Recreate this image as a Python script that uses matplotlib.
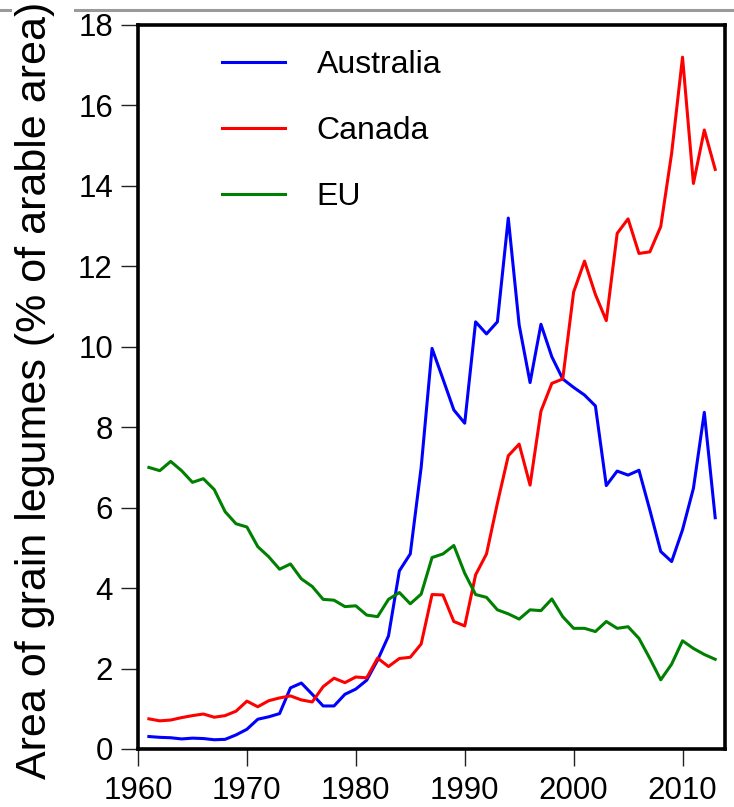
import matplotlib
matplotlib.use("Agg")
import matplotlib.pyplot as plt
from matplotlib.lines import Line2D

plt.rcParams["font.family"] = ["Liberation Sans", "DejaVu Sans"]

years = list(range(1961, 2014))

australia = [0.31, 0.29, 0.28, 0.25, 0.27, 0.26, 0.23, 0.24, 0.35, 0.49,
             0.74, 0.80, 0.88, 1.52, 1.64, 1.36, 1.07, 1.07, 1.36, 1.49,
             1.71, 2.21, 2.81, 4.43, 4.85, 7.00, 9.96, 9.20, 8.43, 8.10,
             10.62, 10.32, 10.62, 13.20, 10.54, 9.11, 10.56, 9.75, 9.20, 8.99,
             8.80, 8.53, 6.55, 6.91, 6.81, 6.93, 5.94, 4.91, 4.66, 5.45,
             6.48, 8.37, 5.75]

canada = [0.75, 0.70, 0.72, 0.78, 0.83, 0.87, 0.79, 0.83, 0.94, 1.19,
          1.05, 1.20, 1.27, 1.32, 1.22, 1.17, 1.55, 1.76, 1.65, 1.79,
          1.77, 2.26, 2.05, 2.25, 2.28, 2.61, 3.84, 3.83, 3.17, 3.06,
          4.33, 4.85, 6.11, 7.29, 7.58, 6.56, 8.40, 9.09, 9.20, 11.36,
          12.13, 11.30, 10.65, 12.82, 13.18, 12.32, 12.36, 12.99, 14.81, 17.20,
          14.06, 15.39, 14.41]

eu = [7.00, 6.92, 7.15, 6.92, 6.63, 6.72, 6.45, 5.90, 5.60, 5.52,
      5.03, 4.78, 4.47, 4.60, 4.23, 4.04, 3.72, 3.70, 3.54, 3.56,
      3.33, 3.29, 3.72, 3.89, 3.61, 3.85, 4.76, 4.85, 5.06, 4.37,
      3.84, 3.77, 3.46, 3.36, 3.23, 3.46, 3.44, 3.73, 3.29, 3.00,
      3.00, 2.92, 3.17, 3.00, 3.04, 2.75, 2.25, 1.72, 2.11, 2.69,
      2.50, 2.35, 2.23]

series = [("Australia", australia, "#0000ff"),
          ("Canada", canada, "#ff0000"),
          ("EU", eu, "#008000")]

x_ticks = [1960, 1970, 1980, 1990, 2000, 2010]
y_ticks = [0, 2, 4, 6, 8, 10, 12, 14, 16, 18]


def main():
    fig = plt.figure(figsize=(7.34, 8.07), dpi=100)
    ax = fig.add_axes([138 / 734, 1 - 749 / 807, 587 / 734, 724 / 807])

    for name, vals, col in series:
        ax.plot(years, vals, color=col, lw=2.2, label=name)

    ax.set_xlim(1960, 2013.9)
    ax.set_ylim(0, 18)
    ax.set_xticks(x_ticks)
    ax.set_yticks(y_ticks)
    ax.tick_params(axis="both", direction="out", length=12, width=1,
                   labelsize=22.5, color="#222222")
    ax.tick_params(axis="x", pad=7.5)
    ax.tick_params(axis="y", pad=6)
    for sp in ax.spines.values():
        sp.set_linewidth(2.6)

    ax.legend(loc="upper left", bbox_to_anchor=(0.143, 0.965), frameon=False,
              fontsize=23, handlelength=1.97, handletextpad=1.0,
              labelspacing=1.12, borderpad=0, borderaxespad=0)

    # ylabel placed by hand, it sits very close to the tick labels
    fig.text(35 / 734, 1 - 390 / 807, "Area of grain legumes (% of arable area)",
             rotation=90, ha="center", va="center", fontsize=31)

    # grey rule along the top (slide artefact)
    fig.add_artist(Line2D([0, 10 / 734], [1 - 10 / 807] * 2, color="#9a9a9a",
                          lw=2.2, transform=fig.transFigure))
    fig.add_artist(Line2D([75 / 734, 1], [1 - 10 / 807] * 2, color="#9a9a9a",
                          lw=2.2, transform=fig.transFigure))

    fig.savefig("out.png", dpi=100)


if __name__ == "__main__":
    main()
